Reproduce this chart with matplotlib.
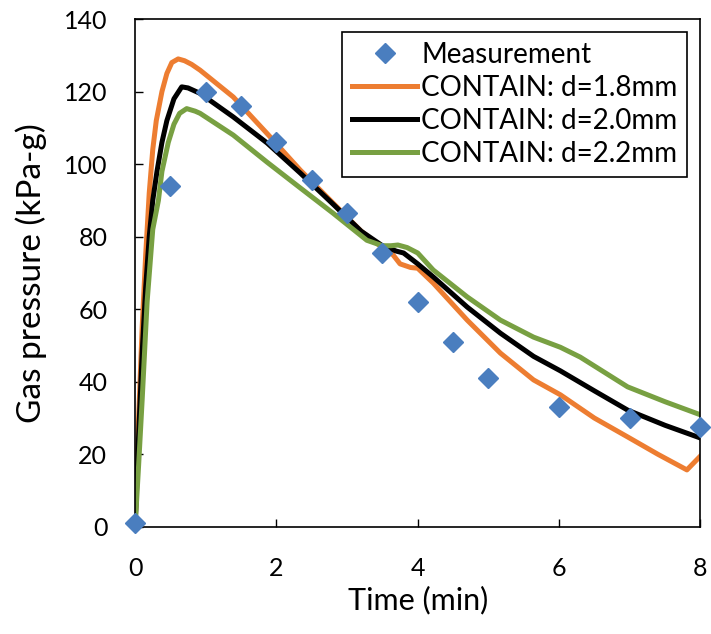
import numpy as np
import matplotlib.pyplot as plt

plt.rcParams['font.family'] = ['Lato', 'DejaVu Sans']

# mediciones
t_med = [0, 0.5, 1.0, 1.5, 2.0, 2.5, 3.0, 3.5, 4.0, 4.5, 5.0, 6.0, 7.0, 8.0]
p_med = [1, 94, 120, 116, 106, 95.5, 86.5, 75.5, 62, 51, 41, 33, 30, 27.5]

# CONTAIN d=1.8mm
t_18 = [0, 0.05, 0.1, 0.15, 0.2, 0.25, 0.3, 0.38, 0.45, 0.52, 0.61, 0.7, 0.8,
        0.92, 1.39, 1.87, 2.34, 2.8, 3.2, 3.5, 3.65, 3.75, 3.9, 4.0, 4.22,
        4.7, 5.17, 5.64, 6.02, 6.5, 6.97, 7.4, 7.81, 8.0]
p_18 = [0, 30, 55, 75, 92, 104, 112, 120, 125, 128, 129, 128.5, 127.5,
        125.9, 118.5, 108.4, 98.3, 89.3, 81.5, 77, 75, 72.5, 71.5, 71.3, 67.2,
        57, 47.9, 40.5, 36.4, 30, 24.8, 20, 15.7, 19.5]

# CONTAIN d=2.0mm
t_20 = [0, 0.05, 0.1, 0.15, 0.2, 0.25, 0.31, 0.38, 0.45, 0.55, 0.66, 0.75,
        0.92, 1.39, 1.87, 2.34, 2.8, 3.2, 3.5, 3.7, 3.8, 4.0, 4.22, 4.7, 5.17,
        5.64, 6.02, 6.5, 6.97, 7.5, 8.0]
p_20 = [0, 25, 48, 66, 80, 90, 98, 106, 112, 118, 121.3, 121,
        119.5, 113, 105.8, 97.5, 89, 81.5, 77.5, 76, 75.5, 72.5, 68.9, 60.6, 53.4,
        47, 43, 37.5, 32.2, 28, 24.5]

# CONTAIN d=2.2mm
t_22 = [0, 0.05, 0.1, 0.17, 0.25, 0.33, 0.38, 0.47, 0.55, 0.63, 0.73, 0.85,
        0.92, 1.39, 1.87, 2.34, 2.8, 3.28, 3.5, 3.62, 3.72, 3.85, 4.0, 4.22,
        4.7, 5.17, 5.64, 6.02, 6.3, 6.97, 7.5, 8.0]
p_22 = [0, 17, 35, 62, 82, 90, 98, 106, 111, 114, 115.3, 114.6,
        114, 108, 100.5, 93.4, 86.5, 79, 77.5, 77.5, 77.7, 77, 75.5, 70.8,
        63.4, 57, 52.3, 49.5, 46.8, 38.6, 34.5, 30.9]

fig = plt.figure(figsize=(7.11, 6.34), dpi=100)
ax = fig.add_axes([0.19, 0.169, 0.795, 0.801])

ax.plot(t_med, p_med, 'D', color='#4a7ebf', markersize=10, clip_on=False,
        zorder=5, label='Measurement')
ax.plot(t_18, p_18, color='#ed7d31', lw=3.6, label='CONTAIN: d=1.8mm')
ax.plot(t_20, p_20, color='black', lw=3.6, label='CONTAIN: d=2.0mm')
ax.plot(t_22, p_22, color='#78a042', lw=3.6, label='CONTAIN: d=2.2mm')

ax.set_xlim(0, 8)
ax.set_ylim(0, 140)
ax.set_xticks(np.arange(0, 9, 2))
ax.set_yticks(np.arange(0, 141, 20))
ax.tick_params(direction='in', labelsize=18, length=6, width=1)
ax.tick_params(axis='y', pad=20)
ax.tick_params(axis='x', pad=22)
for s in ax.spines.values():
    s.set_linewidth(1.2)

ax.set_xlabel('Time (min)', fontsize=22, labelpad=4)
ax.set_ylabel('Gas pressure (kPa-g)', fontsize=24, labelpad=12)

leg = ax.legend(loc='upper right', bbox_to_anchor=(0.977, 0.974), fontsize=20,
                fancybox=False, framealpha=1, edgecolor='black',
                handlelength=2.35, handletextpad=0.15, borderpad=0.35,
                labelspacing=0.25, borderaxespad=0)
leg.get_frame().set_linewidth(1.2)

fig.savefig('out.png', dpi=100)
